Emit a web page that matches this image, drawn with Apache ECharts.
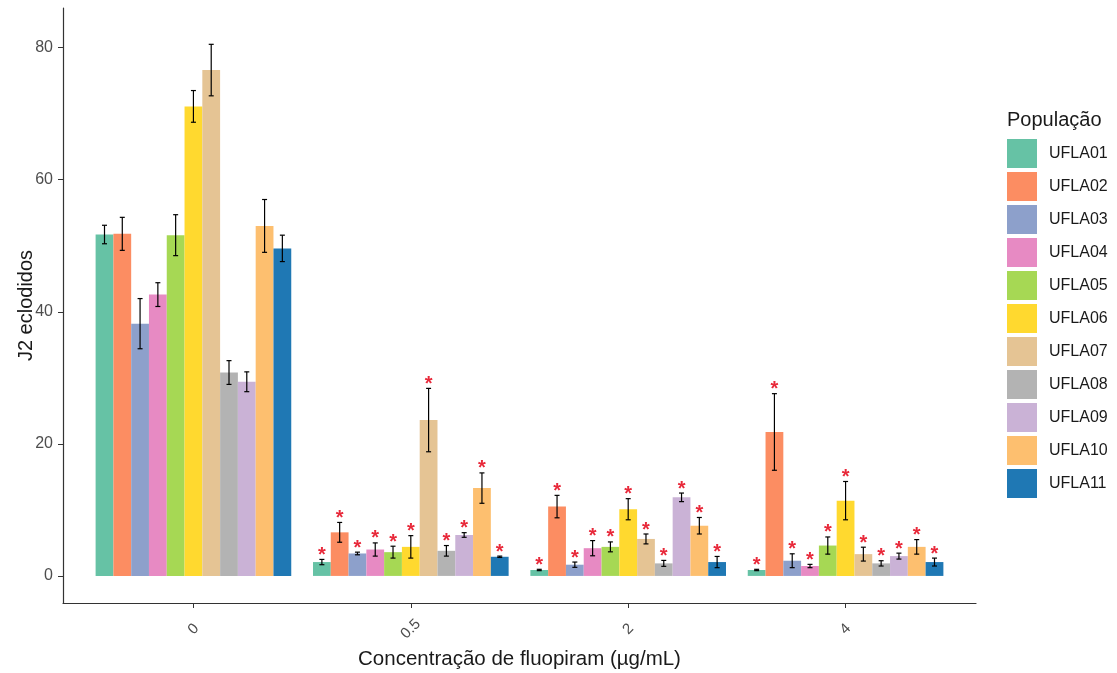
<!DOCTYPE html>
<html>
<head>
<meta charset="utf-8">
<script src="https://cdn.jsdelivr.net/npm/echarts@6/dist/echarts.min.js"></script>
<style>html,body{margin:0;padding:0;background:#fff}#c{width:1117px;height:673px}</style>
</head>
<body>
<div id="c"></div>
<script>
const categories = ['0', '0.5', '2', '4'];
const populations = ['UFLA01','UFLA02','UFLA03','UFLA04','UFLA05','UFLA06','UFLA07','UFLA08','UFLA09','UFLA10','UFLA11'];
const colors = ['#66c2a5','#fc8d62','#8da0cb','#e78ac3','#a6d854','#ffd92f','#e5c494','#b3b3b3','#cab2d6','#fdbf6f','#1f78b4'];
// mean values per population, one value per concentration
const means = {
  UFLA01: [51.7, 2.1, 0.9, 0.9],
  UFLA02: [51.8, 6.6, 10.5, 21.8],
  UFLA03: [38.2, 3.4, 1.7, 2.3],
  UFLA04: [42.6, 4.0, 4.2, 1.5],
  UFLA05: [51.6, 3.6, 4.4, 4.6],
  UFLA06: [71.1, 4.4, 10.1, 11.4],
  UFLA07: [76.6, 23.6, 5.6, 3.3],
  UFLA08: [30.8, 3.8, 1.9, 1.9],
  UFLA09: [29.4, 6.2, 11.9, 3.0],
  UFLA10: [53.0, 13.3, 7.6, 4.4],
  UFLA11: [49.6, 2.9, 2.1, 2.1]
};
// standard errors
const errors = {
  UFLA01: [1.4, 0.4, 0.1, 0.1],
  UFLA02: [2.5, 1.5, 1.7, 5.8],
  UFLA03: [3.8, 0.2, 0.4, 1.05],
  UFLA04: [1.8, 1.0, 1.15, 0.25],
  UFLA05: [3.1, 0.9, 0.75, 1.3],
  UFLA06: [2.4, 1.7, 1.6, 2.9],
  UFLA07: [3.9, 4.8, 0.75, 1.05],
  UFLA08: [1.8, 0.8, 0.45, 0.4],
  UFLA09: [1.5, 0.35, 0.65, 0.45],
  UFLA10: [4.0, 2.3, 1.25, 1.1],
  UFLA11: [2.0, 0.1, 0.85, 0.6]
};
// significance marks per concentration
const significance = ['', '*', '*', '*'];
const yTicks = [0, 20, 40, 60, 80];

const dodge = 0.9;
const nPop = populations.length;
const font = '"Liberation Sans", Arial, sans-serif';

function makeSeries(si) {
  const name = populations[si];
  const data = categories.map((c, ci) => [ci + 1, means[name][ci], errors[name][ci]]);
  return {
    type: 'custom',
    name: name,
    itemStyle: { color: colors[si] },
    data: data,
    encode: { x: 0, y: 1 },
    renderItem: function (params, api) {
      const ci = api.value(0);
      const m = api.value(1);
      const e = api.value(2);
      const sig = significance[ci - 1];
      const bw = dodge / nPop;
      const xc = ci - dodge / 2 + (si + 0.5) * bw;
      const p0 = api.coord([xc - bw / 2, m]);
      const p1 = api.coord([xc + bw / 2, 0]);
      const top = api.coord([xc, m + e]);
      const bot = api.coord([xc, m - e]);
      const cap = 2.5;
      const children = [
        { type: 'rect', shape: { x: p0[0], y: p0[1], width: p1[0] - p0[0], height: p1[1] - p0[1] }, style: { fill: colors[si] } },
        { type: 'line', shape: { x1: top[0], y1: top[1], x2: bot[0], y2: bot[1] }, style: { stroke: '#000', lineWidth: 1.2 } },
        { type: 'line', shape: { x1: top[0] - cap, y1: top[1], x2: top[0] + cap, y2: top[1] }, style: { stroke: '#000', lineWidth: 1.2 } },
        { type: 'line', shape: { x1: bot[0] - cap, y1: bot[1], x2: bot[0] + cap, y2: bot[1] }, style: { stroke: '#000', lineWidth: 1.2 } }
      ];
      if (sig) {
        children.push({ type: 'text', style: { text: sig, x: top[0], y: top[1] - 4, fill: '#e8293a', font: 'bold 20px ' + font, align: 'center', verticalAlign: 'middle' } });
      }
      return { type: 'group', children: children };
    }
  };
}

const chart = echarts.init(document.getElementById('c'), null, { renderer: 'canvas' });
chart.setOption({
  animation: false,
  backgroundColor: '#fff',
  color: colors,
  title: { text: 'População', left: 1007, top: 110, padding: 0, textStyle: { fontFamily: font, fontSize: 20, fontWeight: 'normal', color: '#1a1a1a' } },
  legend: {
    orient: 'vertical', left: 1007, top: 139, padding: 0, itemWidth: 30, itemHeight: 29, itemGap: 4, icon: 'rect',
    data: populations,
    textStyle: { fontFamily: font, fontSize: 16, color: '#1a1a1a', padding: [0, 0, 0, 7] }
  },
  grid: { left: 63, right: 141, top: 8, bottom: 70, containLabel: false, outerBoundsMode: 'none' },
  xAxis: {
    type: 'value', min: 0.4, max: 4.6,
    name: 'Concentração de fluopiram (µg/mL)', nameLocation: 'middle', nameGap: 44,
    nameTextStyle: { fontFamily: font, fontSize: 20.5, color: '#1a1a1a' },
    axisLine: { show: true, onZero: false, lineStyle: { color: '#333', width: 1.2 } },
    axisTick: { show: true, customValues: [1, 2, 3, 4], length: 5, lineStyle: { color: '#333' } },
    axisLabel: { customValues: [1, 2, 3, 4], formatter: v => categories[Math.round(v) - 1], rotate: 45, align: 'center', verticalAlign: 'middle', margin: 26, fontFamily: font, fontSize: 15, color: '#4d4d4d' },
    splitLine: { show: false }
  },
  yAxis: {
    type: 'value', min: -4.1, max: 86,
    name: 'J2 eclodidos', nameLocation: 'middle', nameGap: 27, nameRotate: 90, nameMoveOverlap: false,
    nameTextStyle: { fontFamily: font, fontSize: 20, color: '#1a1a1a' },
    axisLine: { show: true, onZero: false, lineStyle: { color: '#333', width: 1.2 } },
    axisTick: { show: true, customValues: yTicks, length: 5, lineStyle: { color: '#333' } },
    axisLabel: { customValues: yTicks, margin: 10, fontFamily: font, fontSize: 16, color: '#4d4d4d' },
    splitLine: { show: false }
  },
  series: populations.map((p, i) => makeSeries(i))
});
</script>
</body>
</html>
